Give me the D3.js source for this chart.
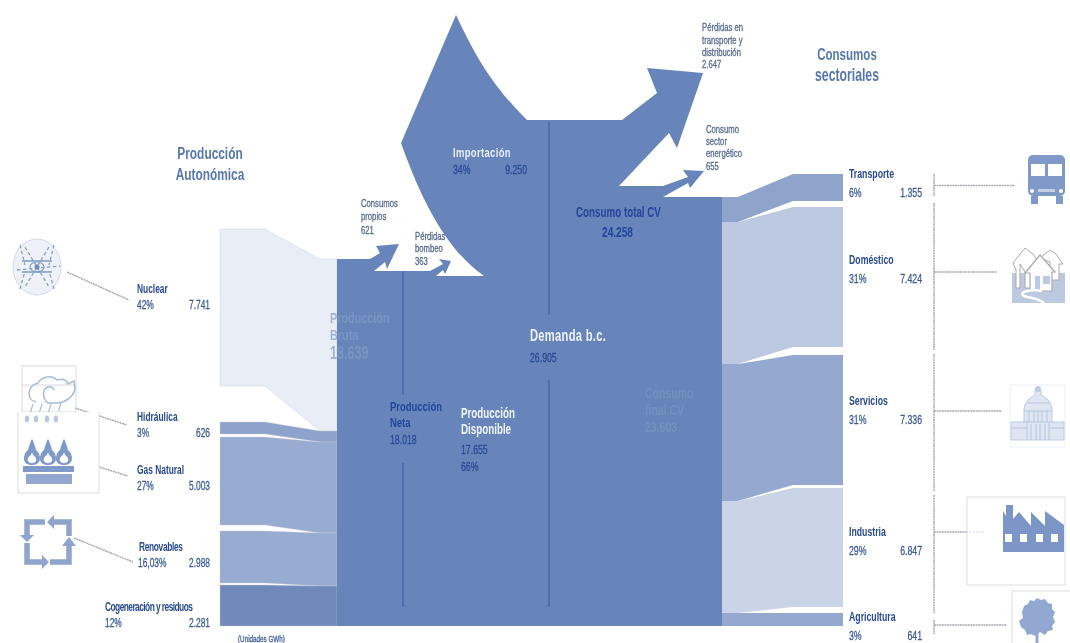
<!DOCTYPE html>
<html>
<head>
<meta charset="utf-8">
<script src="https://cdn.jsdelivr.net/npm/d3@7"></script>
<style>
html, body { margin: 0; background: #fff; }
svg { display: block; filter: blur(0.35px); }
text { font-family: "Liberation Sans", sans-serif; }
</style>
</head>
<body>
<svg id="chart" width="1070" height="643"></svg>
<script>
// values in GWh
const sourceNames = ["Nuclear", "Hidráulica", "Gas Natural", "Renovables", "Cogeneración y residuos"]
const sourcePct = ["42%", "3%", "27%", "16,03%", "12%"]
const sourceValues = [7741, 626, 5003, 2988, 2281]
const sourceColors = ["#e9edf5", "#8ea3cb", "#98abd1", "#98abd1", "#6f8aba"]

const sectorNames = ["Transporte", "Doméstico", "Servicios", "Industria", "Agricultura"]
const sectorPct = ["6%", "31%", "31%", "29%", "3%"]
const sectorValues = [1355, 7424, 7336, 6847, 641]
const sectorColors = ["#8fa4cb", "#bcc9e0", "#95a9d0", "#c9d4e7", "#95a9d0"]

const stageValues = [0, 17655, 18018, 18639, 23603, 24258, 26905]

// layout: the picture is not to scale, so each column gets a piecewise scale
const stageY = d3.scaleLinear().domain(stageValues).range([626, 276, 271, 259, 197, 186, 120])

const sourceCum = [0, ...d3.cumsum(sourceValues)]
const srcTop = d3.scaleLinear().domain(sourceCum).range([229, 422, 437, 531, 585, 626])
const srcBottom = d3.scaleLinear().domain(sourceCum).range([229, 386, 434, 525, 583, 626])
const srcJoin = d3.scaleLinear().domain(sourceCum).range([259, 431, 442, 533, 586, 626])
const srcX = [220, 265, 320, 337]

const sectorCum = [0, ...d3.cumsum(sectorValues)]
const secJoin = d3.scaleLinear().domain(sectorCum).range([197, 222, 364, 501, 613, 626])
const secTop = d3.scaleLinear().domain(sectorCum).range([174, 207, 355, 488, 613, 626])
const secBottom = d3.scaleLinear().domain(sectorCum).range([174, 201, 347, 485, 607, 626])
const secX = [722, 738, 793, 843]

const svg = d3.select("#chart")
const polygon = d3.line().curve(d3.curveLinearClosed)

const MAIN = "#6785ba"
const NAVY = "#2a4a94"
const GREY = "#a9abb1"
const ICON = "#7f99c8"
const ICON_LIGHT = "#a9bbdb"

// ribbons
svg.append("g").selectAll("path")
	.data(sourceValues)
	.join("path")
	.attr("fill", (d, i) => sourceColors[i])
	.attr("stroke", "#c9cdd6")
	.attr("stroke-width", 0.4)
	.attr("d", (d, i) => {
		const t = srcTop(sourceCum[i]), b = srcBottom(sourceCum[i + 1])
		const jt = srcJoin(sourceCum[i]), jb = srcJoin(sourceCum[i + 1])
		return polygon([
			[srcX[0], t], [srcX[1], t], [srcX[2], jt], [srcX[3], jt],
			[srcX[3], jb], [srcX[2], jb], [srcX[1], b], [srcX[0], b]
		])
	})

svg.append("g").selectAll("path")
	.data(sectorValues)
	.join("path")
	.attr("fill", (d, i) => sectorColors[i])
	.attr("d", (d, i) => {
		const jt = secJoin(sectorCum[i]), jb = secJoin(sectorCum[i + 1])
		const t = secTop(sectorCum[i]), b = secBottom(sectorCum[i + 1])
		return polygon([
			[secX[0], jt], [secX[1], jt], [secX[2], t], [secX[3], t],
			[secX[3], b], [secX[2], b], [secX[1], jb], [secX[0], jb]
		])
	})

// main body with the import wedge and the four loss arrows
const p = d3.path()
p.moveTo(337, stageY(0))
p.lineTo(337, stageY(18639))
p.lineTo(370, stageY(18639))
p.lineTo(380, 253); p.lineTo(376, 246); p.lineTo(399, 244); p.lineTo(387, 269); p.lineTo(385, 262)
p.lineTo(374, stageY(18018))
p.lineTo(430, stageY(18018))
p.lineTo(443, 264); p.lineTo(439, 259); p.lineTo(451, 261); p.lineTo(445, 274); p.lineTo(443, 270)
p.lineTo(436, stageY(17655))
p.lineTo(484, stageY(17655))
p.bezierCurveTo(450, 252, 425, 210, 401, 143)
p.lineTo(456, 15)
p.bezierCurveTo(478, 62, 495, 88, 527, stageY(26905))
p.lineTo(622, stageY(26905))
p.lineTo(657, 93); p.lineTo(647, 68); p.lineTo(703, 73); p.lineTo(677, 148); p.lineTo(669, 133)
p.lineTo(619, stageY(24258))
p.lineTo(663, stageY(24258))
p.lineTo(688, 177); p.lineTo(683, 170); p.lineTo(704, 171); p.lineTo(690, 188); p.lineTo(688, 183)
p.lineTo(663, stageY(23603))
p.lineTo(722, stageY(23603))
p.lineTo(722, stageY(0))
p.closePath()
svg.append("path").attr("d", p).attr("fill", MAIN)

// stage dividers, broken around the labels
const dividers = [[403, 271, 395], [403, 463, 607], [549, 122, 315], [549, 380, 607]]
svg.append("g").selectAll("line")
	.data(dividers)
	.join("line")
	.attr("x1", d => d[0]).attr("x2", d => d[0])
	.attr("y1", d => d[1]).attr("y2", d => d[2])
	.attr("stroke", "#3f62a6")
	.attr("stroke-width", 1.2)

// leader lines
const leaders = [
	[67, 272, 129, 300], [75, 408, 127, 425], [83, 462, 128, 476], [74, 538, 133, 562],
	[934, 174, 934, 196], [934, 203, 934, 350], [934, 354, 934, 491], [934, 495, 934, 613], [934, 620, 934, 634],
	[934, 185.5, 1015, 185.5], [934, 272, 997, 272], [934, 411, 1002, 411], [934, 532, 967, 532], [934, 625, 1007, 625]
]
svg.append("g").selectAll("line")
	.data(leaders)
	.join("line")
	.attr("x1", d => d[0]).attr("y1", d => d[1])
	.attr("x2", d => d[2]).attr("y2", d => d[3])
	.attr("stroke", GREY)
	.attr("stroke-width", 1.5)
	.attr("stroke-dasharray", "2 0.6")
svg.append("line").attr("x1", 967).attr("x2", 984).attr("y1", 532).attr("y2", 532)
	.attr("stroke", "#c5d0e5").attr("stroke-dasharray", "1.5 1.5")

// no condensed font installed, so squeeze the text horizontally
function label(x, y, str, size, fill, opts = {}) {
	return svg.append("text")
		.attr("transform", `translate(${x},${y}) scale(${opts.squeeze ?? 0.7},1)`)
		.attr("font-size", size)
		.attr("font-weight", opts.bold ? 700 : 400)
		.attr("fill", fill)
		.attr("stroke", opts.bold ? "none" : fill)
		.attr("stroke-width", 0.3)
		.attr("fill-opacity", opts.opacity ?? 1)
		.attr("text-anchor", opts.anchor ?? "start")
		.attr("letter-spacing", opts.spacing ?? 0)
		.text(str)
}
const fmt = v => d3.format(",")(v).replace(/,/g, ".")

// source labels
const sourceLabelX = [137, 137, 137, 139, 105]
const sourceLabelY = [293, 421, 474, 551, 611]
const sourceSpacing = [0, 0, 0, -0.5, -0.8]
sourceNames.forEach((n, i) => {
	label(sourceLabelX[i], sourceLabelY[i], n, 12, NAVY, {bold: true, spacing: sourceSpacing[i]})
	label(i == 3 ? 138 : sourceLabelX[i], sourceLabelY[i] + 16, sourcePct[i], 12, "#3d5a98")
	label(210, sourceLabelY[i] + 16, fmt(sourceValues[i]), 12, "#3d5a98", {anchor: "end"})
})

// sector labels
const sectorLabelY = [178, 264, 405, 536, 621]
sectorNames.forEach((n, i) => {
	label(849, sectorLabelY[i], n, 12.5, NAVY, {bold: true})
	label(849, sectorLabelY[i] + 19, sectorPct[i], 12.5, "#3d5a98")
	label(922, sectorLabelY[i] + 19, fmt(sectorValues[i]), 12.5, "#3d5a98", {anchor: "end"})
})

// headings
label(210, 159, "Producción", 17, "#5876b0", {bold: true, anchor: "middle"})
label(210, 180, "Autonómica", 17, "#5876b0", {bold: true, anchor: "middle"})
label(847, 60, "Consumos", 16.5, "#5876b0", {bold: true, anchor: "middle"})
label(847, 81, "sectoriales", 17.5, "#5876b0", {bold: true, anchor: "middle"})
label(238, 642, "(Unidades GWh)", 9, "#3d5a98")

// losses
const smallColor = "#56698f"
;[["Consumos", 207], ["propios", 220], [fmt(621), 234]].forEach(d => label(361, d[1], d[0], 11, smallColor))
;[["Pérdidas", 240], ["bombeo", 252], [fmt(363), 265]].forEach(d => label(415, d[1], d[0], 11, smallColor))
;[["Pérdidas en", 31], ["transporte y", 44], ["distribución", 56], [fmt(2647), 68]].forEach(d => label(702, d[1], d[0], 11, smallColor))
;[["Consumo", 133], ["sector", 145], ["energético", 157], [fmt(655), 170]].forEach(d => label(706, d[1], d[0], 11, smallColor))

// labels on the body
label(453, 157, "Importación", 13.5, "#e8edf6", {bold: true, spacing: 0.5})
label(453, 174, "34%", 12.5, NAVY)
label(527, 174, fmt(9250), 12.5, NAVY, {anchor: "end"})
label(576, 217, "Consumo total CV", 14, "#24459a", {bold: true})
label(602, 237, fmt(24258), 14.5, "#24459a", {bold: true})
label(530, 341, "Demanda b.c.", 16, "#eef2f8", {bold: true, spacing: 0.4})
label(530, 362, fmt(26905), 12.5, NAVY)
label(390, 411, "Producción", 13.5, "#24459a", {bold: true})
label(390, 427, "Neta", 13.5, "#24459a", {bold: true})
label(390, 444, fmt(18018), 12.5, NAVY)
label(461, 418, "Producción", 14, "#eef2f8", {bold: true})
label(461, 434, "Disponible", 14, "#eef2f8", {bold: true})
label(461, 454, fmt(17655), 12.5, NAVY)
label(461, 471, "66%", 12.5, NAVY)

// these two labels sit behind the body in the original, so they barely show
label(330, 323, "Producción", 15.5, "#829bc9", {bold: true, opacity: 0.71})
label(330, 340, "Bruta", 15.5, "#829bc9", {bold: true, opacity: 0.71})
label(330, 359, fmt(18639), 18, "#829bc9", {bold: true, opacity: 0.71})
label(645, 398, "Consumo", 15, "#7490c0", {bold: true})
label(645, 415, "final CV", 15, "#7490c0", {bold: true})
label(645, 432, fmt(23603), 15, "#7490c0", {bold: true})

// icons
const box = (x, y, w, h, c = "#d4d6da") => svg.append("rect").attr("x", x).attr("y", y).attr("width", w).attr("height", h)
	.attr("fill", "none").attr("stroke", c).attr("stroke-width", 0.8)
const stroke = (g, c, w) => g.attr("fill", "none").attr("stroke", c).attr("stroke-width", w)

// nuclear
const nuc = svg.append("g").attr("transform", "translate(37,267)")
nuc.append("ellipse").attr("rx", 24).attr("ry", 28).attr("fill", "#eef1f8").attr("stroke", "#d0d8e8")
stroke(nuc.append("path").attr("d", "M-12 -20 L12 20 M12 -20 L-12 20 M-20 3 L23 -1 M-17 -22 L-12 -2 M17 -22 L12 -2 M-17 22 L-12 4 M17 22 L12 4"), "#86a0cc", 1.3).attr("stroke-dasharray", "3.5 2.5")
stroke(nuc.append("path").attr("d", "M-15 -6 H15 M-15 5 H15"), "#7f99c8", 1.6)
stroke(nuc.append("ellipse").attr("rx", 7).attr("ry", 5), "#86a0cc", 1.2)
nuc.append("circle").attr("r", 2.5).attr("fill", "#6f8aba")

// cloud + flames
box(22, 366, 54, 46, "#cfd1d6")
svg.append("line").attr("x1", 22).attr("x2", 76).attr("y1", 385).attr("y2", 385).attr("stroke", "#cfd1d6").attr("stroke-width", 0.8)
svg.append("rect").attr("x", 19).attr("y", 412).attr("width", 80).attr("height", 81).attr("fill", "#fff")
stroke(svg.append("path").attr("d", "M18 412 V493 H99 V412"), "#d4d6da", 0.8)
stroke(svg.append("path").attr("d", "M36 402 C26 400 27 386 38 383 C42 376 52 375 57 380 C63 378 67 380 68 384 L74 381 L75 389 C73 397 66 402 58 403 L48 403 C42 398 42 389 48 387 C51 386 54 388 54 390"), ICON_LIGHT, 1.5)
;[[33, 404], [42, 404], [51, 404], [61, 403]].forEach(d => {
	svg.append("line").attr("x1", d[0]).attr("y1", d[1]).attr("x2", d[0] - 2.5).attr("y2", d[1] + 8).attr("stroke", ICON_LIGHT).attr("stroke-width", 1.2)
})
;[27, 36, 47, 56].forEach(x => svg.append("ellipse").attr("cx", x).attr("cy", 419).attr("rx", 2.2).attr("ry", 3.6).attr("fill", "#b9c8e0"))
;[32, 48, 64].forEach(x => {
	svg.append("path").attr("transform", `translate(${x},465)`).attr("d", "M0 0 C-11 0 -9 -11 -4 -15 C-3 -20 -1 -24 0 -26 C1 -24 3 -20 4 -15 C9 -11 11 0 0 0Z").attr("fill", ICON)
	svg.append("path").attr("transform", `translate(${x},465)`).attr("d", "M0 -2 C-6 -2 -5 -8 -1 -10 L0 -13 L1 -10 C5 -8 6 -2 0 -2Z").attr("fill", "#fff")
})
svg.append("rect").attr("x", 23).attr("y", 466).attr("width", 51).attr("height", 6).attr("fill", "#7f99c8")
svg.append("rect").attr("x", 26).attr("y", 474).attr("width", 46).attr("height", 10).attr("fill", "#93a8d0")

// recycle square, four arrows going round
const rec = svg.append("g")
stroke(rec.append("path").attr("d", "M69 536 V522 H53 M45 522 H27 V535 M27 543 V562 H42 M50 562 H69 V545"), "#8ea4cc", 5.5)
;[[[47, 522], [54, 515], [54, 529]], [[27, 542], [20, 535], [34, 535]], [[49, 562], [42, 555], [42, 569]], [[69, 537], [62, 546], [76, 546]]].forEach(pts => {
	rec.append("path").attr("d", polygon(pts)).attr("fill", "#8ea4cc")
})

// bus
svg.append("rect").attr("x", 1028).attr("y", 155).attr("width", 37).attr("height", 41).attr("rx", 5).attr("fill", ICON)
svg.append("rect").attr("x", 1031).attr("y", 164).attr("width", 14).attr("height", 12).attr("fill", "#fff")
svg.append("rect").attr("x", 1048).attr("y", 164).attr("width", 14).attr("height", 12).attr("fill", "#fff")
svg.append("rect").attr("x", 1031).attr("y", 196).attr("width", 7).attr("height", 8).attr("fill", ICON)
svg.append("rect").attr("x", 1056).attr("y", 196).attr("width", 7).attr("height", 8).attr("fill", ICON)
svg.append("rect").attr("x", 1038).attr("y", 189).attr("width", 17).attr("height", 3).attr("fill", "#c5d0e5")
svg.append("circle").attr("cx", 1032).attr("cy", 191).attr("r", 2).attr("fill", "#fff")
svg.append("circle").attr("cx", 1061).attr("cy", 191).attr("r", 2).attr("fill", "#fff")

// houses
svg.append("rect").attr("x", 1012).attr("y", 273).attr("width", 53).attr("height", 30).attr("fill", "#bcc9e0")
const house = "#a7a9ae"
svg.append("path").attr("d", "M1013 263 L1025 248 L1033 254 L1036 258 L1040 270 L1032 288 H1025 V272 L1020 264 L1020 288 H1016 V270Z").attr("fill", "#fff").attr("stroke", house)
svg.append("path").attr("d", "M1040 258 L1050 250 L1056 254 L1063 264 L1059 264 V280 H1050 V262Z").attr("fill", "#fff").attr("stroke", house)
svg.append("path").attr("d", "M1025 273 L1040 255 L1055 272 L1052 272 V291 H1030 V273Z").attr("fill", "#fff").attr("stroke", house).attr("stroke-width", 1.2)
svg.append("rect").attr("x", 1035).attr("y", 276).attr("width", 5).attr("height", 15).attr("fill", "#bcc9e0")
svg.append("rect").attr("x", 1043).attr("y", 276).attr("width", 7).attr("height", 8).attr("fill", "#bcc9e0")
stroke(svg.append("path").attr("d", "M1042 291 C1030 289 1018 292 1024 296 C1030 298 1038 298 1044 303"), "#fff", 2.6)

// capitol
box(1010, 385, 55, 62, "#e7eaf2")
const cap = svg.append("g")
cap.append("path").attr("d", "M1011 440 V422 H1024 V411 C1024 402 1029 398 1035 395 L1035 390 H1041 V395 C1047 398 1052 402 1052 411 V422 H1064 V440Z").attr("fill", "#dfe6f2").attr("stroke", "#bccae2")
stroke(cap.append("path").attr("d", "M1024 411 H1052 M1027 403 H1049 M1024 422 H1052 M1029 411 V422 M1034 411 V422 M1038 411 V422 M1042 411 V422 M1047 411 V422 M1011 428 H1027 M1049 428 H1064 M1027 423 V440 M1049 423 V440 M1031 424 V440 M1036 424 V440 M1040 424 V440 M1045 424 V440"), "#b5c4df", 1)
cap.append("circle").attr("cx", 1038).attr("cy", 389).attr("r", 3).attr("fill", "#bccae2")

// factory
box(967, 497, 98, 88)
svg.append("path").attr("d", "M1003 552 V511 L1006 516 V505 H1013 V519 L1019 512 L1031 526 V512 L1045 526 V511 L1064 525 V552Z").attr("fill", "#7b95c6")
;[1005, 1020, 1036, 1051].forEach(x => svg.append("rect").attr("x", x).attr("y", 534).attr("width", 7).attr("height", 8).attr("fill", "#fff"))

// tree
box(1012, 591, 70, 60)
svg.append("path").attr("d", "M1024 606 L1028 604 L1030 600 L1034 601 L1037 598 L1041 600 L1045 599 L1048 603 L1052 604 L1052 609 L1055 612 L1053 617 L1055 622 L1052 626 L1053 630 L1048 631 L1045 635 L1040 632 L1035 636 L1031 634 L1027 635 L1025 630 L1021 627 L1019 621 L1023 618 L1022 612Z").attr("fill", "#93a8d0")
svg.append("rect").attr("x", 1035.5).attr("y", 630).attr("width", 3).attr("height", 13).attr("fill", "#93a8d0")
</script>
</body>
</html>
